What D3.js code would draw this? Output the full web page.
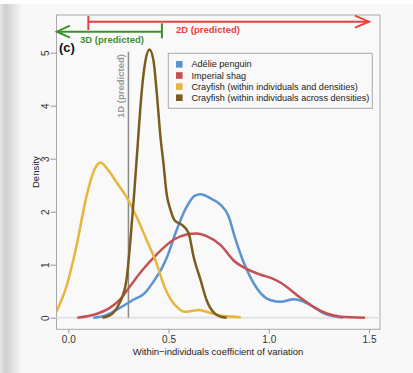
<!DOCTYPE html>
<html><head><meta charset="utf-8">
<script src="https://cdn.jsdelivr.net/npm/d3@7"></script>
<style>html,body{margin:0;padding:0;background:#f8f8f8;}svg{display:block;}</style>
</head><body>
<script>
// ---- data ----
const seriesNames = ["Adélie penguin","Imperial shag","Crayfish (within individuals and densities)","Crayfish (within individuals across densities)"];
const seriesColors = ["#5b93d2","#c45152","#e8b53d","#7a5c1c"];
const penguinX = [0.125,0.19,0.255,0.32,0.38,0.43,0.47,0.49,0.54,0.59,0.63,0.66,0.71,0.76,0.8,0.83,0.87,0.91,0.96,1.01,1.06,1.125,1.17,1.22,1.27,1.32,1.37];
const penguinY = [0,0.05,0.18,0.33,0.46,0.71,0.96,1.12,1.65,2.09,2.30,2.33,2.25,2.13,1.91,1.53,1.09,0.75,0.46,0.33,0.30,0.35,0.31,0.21,0.09,0.03,0.0];
const shagX = [0.045,0.14,0.205,0.255,0.305,0.37,0.44,0.49,0.525,0.59,0.64,0.69,0.76,0.825,0.89,0.96,1.01,1.06,1.09,1.16,1.225,1.29,1.36,1.48];
const shagY = [0,0.07,0.18,0.33,0.58,0.9,1.19,1.37,1.47,1.57,1.59,1.54,1.37,1.08,0.92,0.81,0.75,0.66,0.58,0.37,0.2,0.08,0.02,0.0];
const crayWithinX = [-0.06,-0.01,0.04,0.09,0.13,0.16,0.2,0.24,0.29,0.34,0.39,0.44,0.48,0.51,0.54,0.58,0.62,0.65,0.71,0.775,0.86];
const crayWithinY = [0.11,0.58,1.34,2.28,2.79,2.93,2.78,2.56,2.28,1.91,1.47,1.03,0.58,0.35,0.21,0.11,0.13,0.145,0.09,0.03,0.01];
const crayAcrossX = [0.17,0.22,0.255,0.29,0.31,0.33,0.345,0.367,0.385,0.405,0.425,0.44,0.46,0.475,0.49,0.51,0.53,0.567,0.6,0.625,0.66,0.69,0.73,0.76,0.79];
const crayAcrossY = [0.0,0.08,0.27,0.71,1.47,2.41,3.2,4.30,4.85,5.06,4.85,4.3,3.4,2.9,2.35,2.03,1.84,1.75,1.6,1.15,0.71,0.33,0.08,0.02,0.0];
const xTicks = [0,0.5,1.0,1.5];
const xTickLabels = ["0.0","0.5","1.0","1.5"];
const yTicks = [0,1,2,3,4,5];
const pred1D = 0.3;
const pred2D = [0.1, 1.5];
const pred3D = [0.467, -0.057];

const W = 413, H = 373;
const svg = d3.select("body").append("svg").attr("width", W).attr("height", H);
const font = "'Liberation Sans', Arial, Helvetica, sans-serif";

// page shadow on left
const defs = svg.append("defs");
const g1 = defs.append("linearGradient").attr("id","sh").attr("x1","0").attr("x2","1");
g1.append("stop").attr("offset","0").attr("stop-color","#e6e6e6");
g1.append("stop").attr("offset","0.25").attr("stop-color","#cfcfcf");
g1.append("stop").attr("offset","1").attr("stop-color","#f8f8f8");
svg.append("rect").attr("x",0).attr("y",0).attr("width",22).attr("height",H).attr("fill","url(#sh)");
svg.append("rect").attr("x",0).attr("y",0).attr("width",W).attr("height",4).attr("fill","#ffffff");

const box = {l:56.5, t:15, r:380, b:329.3};
const x = d3.scaleLinear().domain([0,1.5]).range([68.3, 369]);
const y = d3.scaleLinear().domain([0,5]).range([317.7, 52.7]);

// plot box
svg.append("rect").attr("x",box.l).attr("y",box.t).attr("width",box.r-box.l).attr("height",box.b-box.t)
  .attr("fill","#f9f9f9").attr("stroke","#a9a9a9").attr("stroke-width",1);

// zero line
svg.append("line").attr("x1",box.l).attr("x2",box.r).attr("y1",y(0)).attr("y2",y(0))
  .attr("stroke","#e3e3e3").attr("stroke-width",2);

// axes
const xAxis = d3.axisBottom(x).tickValues(xTicks).tickFormat((d,i)=>xTickLabels[i]).tickSize(4).tickPadding(3);
const gx = svg.append("g").attr("transform",`translate(0,${box.b})`).call(xAxis);
gx.select(".domain").remove();
gx.selectAll("line").attr("stroke","#999");
gx.selectAll("text").attr("font-family",font).attr("font-size",10).attr("fill","#333");

const yAxis = d3.axisLeft(y).tickValues(yTicks).tickSize(6).tickFormat(d3.format("d"));
const gy = svg.append("g").attr("transform",`translate(${box.l},0)`).call(yAxis);
gy.select(".domain").remove();
gy.selectAll("line").attr("stroke","#999");
gy.selectAll("text").attr("font-family",font).attr("font-size",10).attr("fill","#333")
  .attr("x",null).attr("dy",null).attr("text-anchor","middle")
  .attr("transform","translate(-11,0) rotate(-90)").attr("dy","0.35em");

svg.append("text").attr("transform",`translate(36,${(box.t+box.b)/2}) rotate(-90)`)
  .attr("text-anchor","middle").attr("dy","0.35em").attr("font-family",font).attr("font-size",9.5).attr("fill","#222").text("Density");
svg.append("text").attr("x",218).attr("y",355).attr("text-anchor","middle")
  .attr("font-family",font).attr("font-size",9.5).attr("fill","#222").text("Within\u2212individuals coefficient of variation");

// 1D predicted line
svg.append("line").attr("x1",x(pred1D)).attr("x2",x(pred1D)).attr("y1",y(5.02)).attr("y2",y(0))
  .attr("stroke","#8a8a8a").attr("stroke-width",1.5);
svg.append("text").attr("transform",`translate(${x(pred1D)-8},${86}) rotate(-90)`)
  .attr("text-anchor","middle").attr("dy","0.35em").attr("font-family",font).attr("font-size",9.5)
  .attr("font-weight","bold").attr("fill","#9a9a9a").text("1D (predicted)");

// curves
const line = d3.line().x(d=>x(d[0])).y(d=>y(d[1])).curve(d3.curveMonotoneX);
const series = [[penguinX,penguinY],[shagX,shagY],[crayWithinX,crayWithinY],[crayAcrossX,crayAcrossY]];
const clip = defs.append("clipPath").attr("id","clip");
clip.append("rect").attr("x",box.l).attr("y",box.t).attr("width",box.r-box.l).attr("height",box.b-box.t);
series.forEach((s,i)=>{
  const pts = s[0].map((v,j)=>[v,s[1][j]]);
  svg.append("path").attr("d",line(pts)).attr("fill","none").attr("stroke",seriesColors[i])
    .attr("stroke-width",2.5).attr("clip-path","url(#clip)");
});

// 2D arrow (red)
const red = "#e8403a", green = "#3f8f2f";
const yR = 21.7;
svg.append("line").attr("x1",x(pred2D[0])).attr("x2",x(pred2D[0])).attr("y1",16).attr("y2",30).attr("stroke",red).attr("stroke-width",2);
svg.append("line").attr("x1",x(pred2D[0])).attr("x2",x(pred2D[1])).attr("y1",yR).attr("y2",yR).attr("stroke",red).attr("stroke-width",2);
svg.append("path").attr("d",`M${x(pred2D[1])-14},${yR-6} L${x(pred2D[1])},${yR} L${x(pred2D[1])-14},${yR+6}`)
  .attr("fill","none").attr("stroke",red).attr("stroke-width",2);
svg.append("text").attr("x",208).attr("y",29.3).attr("dy","0.35em").attr("text-anchor","middle")
  .attr("font-family",font).attr("font-size",9.5).attr("font-weight","bold").attr("fill",red).text("2D (predicted)");

// 3D arrow (green)
const yG = 31.7;
svg.append("line").attr("x1",x(pred3D[0])).attr("x2",x(pred3D[0])).attr("y1",23.3).attr("y2",38.3).attr("stroke",green).attr("stroke-width",2);
svg.append("line").attr("x1",x(pred3D[0])).attr("x2",x(pred3D[1])).attr("y1",yG).attr("y2",yG).attr("stroke",green).attr("stroke-width",2);
svg.append("path").attr("d",`M${x(pred3D[1])+13},${yG-6} L${x(pred3D[1])},${yG} L${x(pred3D[1])+13},${yG+6}`)
  .attr("fill","none").attr("stroke",green).attr("stroke-width",2);
svg.append("text").attr("x",112).attr("y",39.3).attr("dy","0.35em").attr("text-anchor","middle")
  .attr("font-family",font).attr("font-size",9.5).attr("font-weight","bold").attr("fill",green).text("3D (predicted)");

// (c)
svg.append("text").attr("x",59).attr("y",52).attr("font-family",font).attr("font-size",13)
  .attr("font-weight","bold").attr("fill","#111").text("(c)");

// legend
const lg = svg.append("g");
lg.append("rect").attr("x",168.3).attr("y",53.3).attr("width",204).attr("height",55)
  .attr("fill","#f9f9f9").attr("stroke","#a9a9a9").attr("stroke-width",1);
const rowsY = [64.3,75.5,86.6,97.7];
seriesNames.forEach((n,i)=>{
  lg.append("rect").attr("x",176).attr("y",rowsY[i]-3.3).attr("width",6.6).attr("height",6.6).attr("fill",seriesColors[i]);
  lg.append("text").attr("x",191.5).attr("y",rowsY[i]).attr("dy","0.35em").attr("font-family",font)
    .attr("font-size",9.1).attr("fill","#222").text(n);
});
</script>
</body></html>
